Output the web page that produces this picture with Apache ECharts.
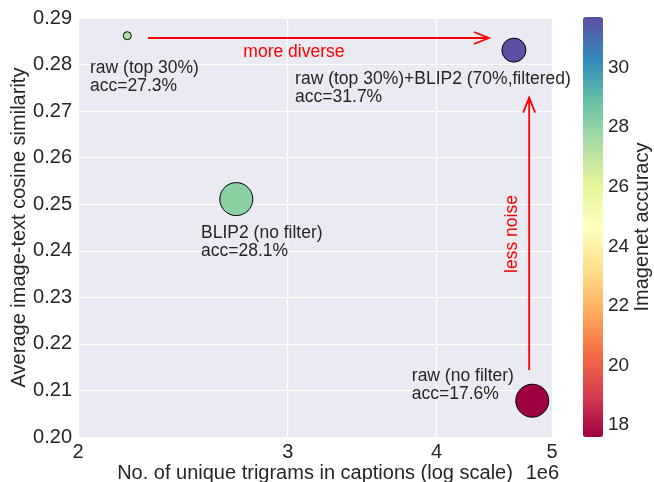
<!DOCTYPE html>
<html>
<head>
<meta charset="utf-8">
<script src="https://cdn.jsdelivr.net/npm/echarts@6/dist/echarts.min.js"></script>
<style>
html, body { margin: 0; padding: 0; background: #fff; }
#chart { width: 654px; height: 482px; }
</style>
</head>
<body>
<div id="chart"></div>
<script>
// data
const names = ['raw (top 30%)', 'BLIP2 (no filter)', 'raw (top 30%)+BLIP2 (70%,filtered)', 'raw (no filter)'];
const trigrams = [2.20e6, 2.716e6, 4.645e6, 4.813e6];
const similarity = [0.2862, 0.2511, 0.2831, 0.2078];
const accuracy = [27.3, 28.1, 31.7, 17.6];
const markerSize = [8, 33, 24, 33];

// where each text annotation is anchored (data coords)
const annX = [2.047e6, 2.537e6, 3.043e6, 3.813e6];
const annY = [0.2773, 0.2419, 0.2749, 0.2112];

const noteText = ['more diverse', 'less noise'];
const noteX = [3.036e6, 4.627e6];
const noteY = [0.2827, 0.2436];

// arrows: [x0, y0, x1, y1]
const arrows = [
    [2.29e6, 0.2857, 4.426e6, 0.2857],
    [4.784e6, 0.2144, 4.784e6, 0.2729]
];

const xTicks = [2e6, 3e6, 4e6, 5e6];
const cbTicks = [18, 20, 22, 24, 26, 28, 30];

const font = "'Liberation Sans', Arial, sans-serif";
const ink = '#262626';
const spectral = ['#9e0142', '#d53e4f', '#f46d43', '#fdae61', '#fee08b', '#ffffbf',
    '#e6f598', '#abdda4', '#66c2a5', '#3288bd', '#5e4fa2'];

var myChart = echarts.init(document.getElementById('chart'));

var option = {
    animation: false,
    textStyle: { fontFamily: font },
    grid: [
        { left: 78, top: 18, right: 102, bottom: 45, show: true, backgroundColor: '#EAEAF2', borderWidth: 0, outerBoundsMode: 'none' },
        { left: 583, top: 17, width: 20, bottom: 45, show: false, outerBoundsMode: 'none' }
    ],
    xAxis: [
        {
            type: 'log', min: 2e6, max: 5e6,
            name: 'No. of unique trigrams in captions (log scale)',
            nameLocation: 'middle', nameGap: 26, nameMoveOverlap: false,
            nameTextStyle: { fontSize: 20, color: ink, fontFamily: font },
            axisLine: { show: false },
            axisTick: { show: false, customValues: xTicks },
            axisLabel: {
                customValues: xTicks, fontSize: 20, color: ink, margin: 5,
                formatter: v => String(Math.round(v / 1e6))
            },
            splitLine: { show: true, lineStyle: { color: '#fff', width: 1.2 } },
            minorSplitLine: { show: false }
        },
        { gridIndex: 1, type: 'value', show: false, min: 0, max: 1 }
    ],
    yAxis: [
        {
            type: 'value', min: 0.2, max: 0.29, interval: 0.01,
            name: 'Average image-text cosine similarity',
            nameLocation: 'middle', nameGap: 49, nameRotate: 90, nameMoveOverlap: false,
            nameTextStyle: { fontSize: 20, color: ink, fontFamily: font },
            axisLine: { show: false },
            axisTick: { show: false },
            axisLabel: { fontSize: 20, color: ink, margin: 6, formatter: v => v.toFixed(2) },
            splitLine: { show: true, lineStyle: { color: '#fff', width: 1.2 } }
        },
        {
            gridIndex: 1, type: 'value', position: 'right', min: 17.6, max: 31.7,
            name: 'Imagenet accuracy', nameLocation: 'middle', nameGap: 29, nameRotate: 90,
            nameMoveOverlap: false,
            nameTextStyle: { fontSize: 20, color: ink, fontFamily: font },
            axisLine: { show: false },
            axisTick: { show: true, customValues: cbTicks, length: 4, lineStyle: { color: ink, width: 1 } },
            axisLabel: { customValues: cbTicks, fontSize: 19, color: ink, margin: 5 },
            splitLine: { show: false }
        }
    ],
    visualMap: {
        type: 'continuous', min: 17.6, max: 31.7, dimension: 2, seriesIndex: 0,
        left: 583, top: 17, itemWidth: 20, itemHeight: 420, padding: 0,
        calculable: false, text: null, hoverLink: false,
        inRange: { color: spectral }
    },
    graphic: [
        {
            type: 'text', right: 654 - 559, top: 463,
            style: { text: '1e6', font: '20px ' + font, fill: ink }
        }
    ],
    series: [
        {
            type: 'scatter',
            data: trigrams.map((x, i) => [x, similarity[i], accuracy[i], markerSize[i]]),
            symbolSize: v => v[3],
            itemStyle: { borderColor: '#000', borderWidth: 1, opacity: 1 },
            z: 5
        },
        {
            type: 'scatter',
            symbolSize: 0,
            silent: true,
            itemStyle: { opacity: 1 },
            data: names.map((n, i) => ({ value: [annX[i], annY[i]], name: n, acc: accuracy[i] })),
            label: {
                show: true, position: 'right', distance: 0,
                fontSize: 17.5, lineHeight: 18, color: ink, fontFamily: font, align: 'left',
                formatter: p => p.name + '\nacc=' + p.data.acc.toFixed(1) + '%'
            }
        },
        {
            type: 'scatter',
            symbolSize: 0,
            silent: true,
            itemStyle: { opacity: 1 },
            data: noteText.map((t, i) => ({
                value: [noteX[i], noteY[i]], name: t,
                label: { rotate: i === 1 ? 90 : 0 }
            })),
            label: {
                show: true, position: 'inside', fontSize: 17.5, color: '#ff0000', fontFamily: font,
                formatter: p => p.name
            }
        },
        {
            type: 'custom',
            silent: true,
            data: arrows,
            encode: { x: [0, 2], y: [1, 3] },
            renderItem: function (params, api) {
                var p0 = api.coord([api.value(0), api.value(1)]);
                var p1 = api.coord([api.value(2), api.value(3)]);
                var a = Math.atan2(p1[1] - p0[1], p1[0] - p0[0]);
                var L = 15, W = 6;
                var hx = p1[0] - L * Math.cos(a), hy = p1[1] - L * Math.sin(a);
                var s = { stroke: '#ff0000', lineWidth: 1.8, fill: null };
                return {
                    type: 'group',
                    children: [
                        { type: 'line', shape: { x1: p0[0], y1: p0[1], x2: p1[0], y2: p1[1] }, style: s },
                        {
                            type: 'polyline',
                            shape: { points: [[hx + W * Math.sin(a), hy - W * Math.cos(a)], p1, [hx - W * Math.sin(a), hy + W * Math.cos(a)]] },
                            style: s
                        }
                    ]
                };
            },
            z: 4
        }
    ]
};

option && myChart.setOption(option);
</script>
</body>
</html>
